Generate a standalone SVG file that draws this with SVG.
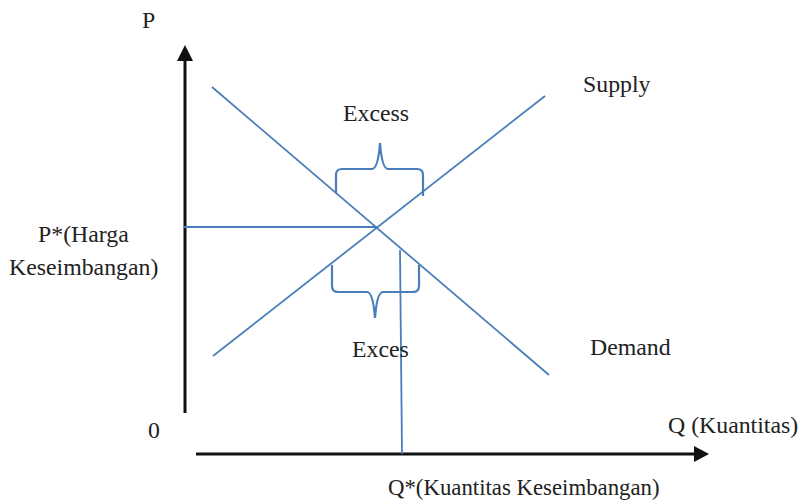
<svg xmlns="http://www.w3.org/2000/svg" width="805" height="500" viewBox="0 0 805 500">
<style>
text{font-family:'Liberation Serif',serif;font-size:23.8px;fill:#222}
.ax{stroke:#111;stroke-width:3;fill:none}
.ln{stroke:#4a7ebb;stroke-width:1.8;fill:none}
.br{stroke:#4a7ebb;stroke-width:2.2;fill:none}
</style>
<rect width="805" height="500" fill="#fff"/>
<g id="axes">
<line class="ax" x1="185" y1="413" x2="185" y2="60"/>
<path d="M185,45 L193,61 L177,61 z" fill="#111"/>
<line class="ax" x1="196" y1="454" x2="695" y2="454"/>
<path d="M709,454 L694,446 L694,462 z" fill="#111"/>
</g>
<g id="connectors">
<line id="demand-line" class="ln" x1="212" y1="87" x2="549" y2="375"/>
<line id="supply-line" class="ln" x1="213" y1="356" x2="545" y2="96"/>
<line id="p-star-line" class="ln" x1="183" y1="227" x2="377" y2="227"/>
<line id="q-star-line" class="ln" x1="400" y1="250" x2="402" y2="454"/>
</g>
<g id="brace-top">
<path class="br" d="M336,193 L336,175 Q336,169 342,169 L372,169 Q378,169 380,143 Q382,169 388,169 L417,169 Q423,169 423,175 L423,196"/>
</g>
<g id="brace-bottom">
<path class="br" d="M332,265 L332,286 Q332,292 338,292 L367,292 Q373,292 375,318 Q377,292 383,292 L413,292 Q419,292 419,286 L419,265"/>
</g>
<g id="labels">
<text x="142" y="28">P</text>
<text x="583" y="92">Supply</text>
<text x="343" y="121">Excess</text>
<text x="38" y="242">P*(Harga</text>
<text x="9" y="275">Keseimbangan)</text>
<text x="352" y="357">Exces</text>
<text x="590" y="355">Demand</text>
<text x="148" y="438">0</text>
<text x="668" y="433">Q (Kuantitas)</text>
<text x="388" y="495" style="font-size:22.8px">Q*(Kuantitas Keseimbangan)</text>
</g>
</svg>
